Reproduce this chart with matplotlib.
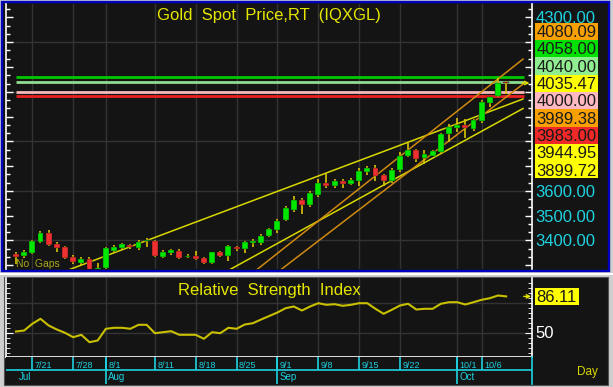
import matplotlib
matplotlib.use("Agg")
import matplotlib.pyplot as plt
import numpy as np
import pandas as pd
from matplotlib.patches import Rectangle
from matplotlib.ticker import MultipleLocator, FuncFormatter, FixedLocator

plt.rcParams['font.family'] = ['Liberation Sans', 'DejaVu Sans']

# ---- data (daily bars, Gold spot) ----
dates = pd.bdate_range("2025-07-17", "2025-10-09")

opens = [3346, 3338, 3347, 3395, 3431, 3387, 3371, 3334, 3310, 3326,
         3280, 3290, 3355, 3367, 3379, 3367, 3396, 3399, 3334, 3347,
         3355, 3334, 3338, 3330, 3310, 3351, 3338, 3371, 3363, 3391,
         3391, 3419, 3440, 3480, 3524, 3561, 3541, 3581, 3633, 3621,
         3641, 3629, 3641, 3674, 3690, 3662, 3641, 3682, 3742, 3763,
         3734, 3742, 3755, 3831, 3852, 3864, 3848, 3880, 3953, 3981,
         4041]
highs = [3351, 3359, 3403, 3437, 3440, 3395, 3378, 3340, 3334, 3331,
         3310, 3372, 3380, 3390, 3386, 3400, 3411, 3403, 3359, 3366,
         3363, 3346, 3356, 3334, 3354, 3355, 3380, 3375, 3398, 3407,
         3426, 3448, 3487, 3540, 3578, 3570, 3598, 3646, 3671, 3646,
         3648, 3650, 3690, 3702, 3705, 3668, 3690, 3756, 3792, 3770,
         3765, 3763, 3835, 3868, 3895, 3891, 3890, 3965, 3980, 4056,
         4045]
lows = [3306, 3330, 3343, 3390, 3375, 3352, 3325, 3305, 3302, 3268,
        3270, 3285, 3350, 3360, 3366, 3362, 3373, 3333, 3327, 3342,
        3326, 3328, 3320, 3306, 3306, 3334, 3316, 3358, 3348, 3373,
        3379, 3415, 3430, 3476, 3516, 3507, 3535, 3575, 3613, 3613,
        3612, 3625, 3621, 3664, 3641, 3621, 3630, 3675, 3735, 3715,
        3709, 3740, 3750, 3796, 3837, 3814, 3840, 3872, 3938, 3978,
        3992]
closes = [3334, 3351, 3399, 3431, 3379, 3367, 3330, 3314, 3326, 3278,
          3290, 3367, 3371, 3383, 3371, 3395, 3400, 3338, 3351, 3359,
          3330, 3338, 3326, 3310, 3351, 3338, 3375, 3363, 3395, 3399,
          3419, 3444, 3476, 3532, 3561, 3541, 3589, 3633, 3621, 3641,
          3629, 3645, 3678, 3690, 3658, 3641, 3682, 3742, 3763, 3730,
          3750, 3759, 3831, 3856, 3864, 3852, 3884, 3957, 3977, 4037,
          4035.47]
rsi = [51, 52, 58.7, 63.7, 57, 53, 49.7, 45.3, 47.7, 40.3,
       42, 53.7, 54.7, 54.7, 53.7, 57.7, 57.7, 49.3, 50.3, 51.3,
       47.7, 47.7, 47.7, 43.7, 50.3, 49.3, 54.7, 53.7, 58, 59.3,
       63, 66.5, 70, 74.3, 76, 72, 76, 79.3, 77.7, 78.3,
       76.7, 77.7, 79.3, 79.3, 73.7, 68.7, 72.7, 77, 78.7, 73,
       73.7, 73.7, 78.7, 80.3, 80.3, 78, 80.3, 82.7, 84.3, 87,
       86.11]

day_ticks = ['7/21', '7/28', '8/1', '8/11', '8/18', '8/25', '9/1',
             '9/8', '9/15', '9/22', '10/1', '10/6']
month_names = ['Jul', 'Aug', 'Sep', 'Oct']

price_labels = [3400, 3500, 3600, 4300]
level_prices = [4058, 4040, 4000, 3983]
level_colors = ['#00c800', '#8fdc8f', '#f4b8b8', '#e82020']

# trend lines: (bar index, price) start -> end
trend_x0 = [6.24, 26.19, 29.5, 32.44]
trend_p0 = [3277.9, 3281.9, 3281.9, 3281.9]
trend_x1 = [62.06, 62.06, 62.06, 62.06]
trend_p1 = [3970.7, 3932.3, 4131.9, 4030.9]
trend_colors = ['#d8d800', '#d8d800', '#d08a10', '#d08a10']

box_labels = ['4080.09', '4058.00', '4040.00', '4035.47', '4000.00',
              '3989.38', '3983.00', '3944.95', '3899.72']
box_colors = ['#f8a000', '#00e000', '#90ee90', '#ffff00', '#ffb8c0',
              '#f8a000', '#f02828', '#ffff00', '#ffff00']

price_grid = [3400, 3600, 3800, 4000, 4200]
rsi_grid = [50, 80]

# ---- layout helpers (pixels, measured from top-left) ----
W, H = 613, 387
BG = '#141414'
GRID = '#333333'
CYAN = '#1ed2e0'
YELLOW = '#e6e600'


def frame(x0, y0, x1, y1):
    return [x0 / W, 1 - y1 / H, (x1 - x0) / W, (y1 - y0) / H]


def rect(fig, x0, y0, x1, y1, **kw):
    fig.add_artist(Rectangle((x0 / W, 1 - y1 / H), (x1 - x0) / W, (y1 - y0) / H,
                             transform=fig.transFigure, **kw))


def last_arrow(axis, x, y):
    axis.annotate('', xy=(x + 0.45, y), xytext=(x - 0.45, y),
                  arrowprops=dict(arrowstyle='->', color=YELLOW, lw=1,
                                  mutation_scale=6, shrinkA=0, shrinkB=0),
                  zorder=6)


idx = np.arange(len(dates))
labels = [f"{d.month}/{d.day}" for d in dates]
tick_idx = [labels.index(t) for t in day_ticks]
month_idx = [0] + [i for i in range(1, len(dates)) if dates[i].month != dates[i - 1].month]
xlim = (-1.22, 63.16)

fig = plt.figure(figsize=(W / 100, H / 100), dpi=100, facecolor='#cfcfcf')

# panel backgrounds / borders
rect(fig, 2, 2, 609, 271, facecolor=BG, edgecolor='#0000c0', lw=1.7, zorder=-2)
rect(fig, 0, 272.5, W, 275, facecolor='white', edgecolor='none', zorder=-2)
rect(fig, 4, 277, 608, 385, facecolor=BG, edgecolor='#505050', lw=0.8, zorder=-2)

# ---- price panel ----
ax = fig.add_axes(frame(6, 4, 532, 269), facecolor=BG)
ax.set_xlim(*xlim)
ax.set_ylim(3284, 4354.5)
for s in ['top', 'bottom']:
    ax.spines[s].set_visible(False)
for s in ['left', 'right']:
    ax.spines[s].set_color('white')
    ax.spines[s].set_linewidth(1.2)
ax.set_xticks([])
ax.yaxis.set_major_locator(MultipleLocator(100))
ax.yaxis.set_minor_locator(MultipleLocator(100 / 3))
ax.yaxis.set_major_formatter(
    FuncFormatter(lambda v, p: f"{v:.2f}" if round(v) in price_labels else ""))
ax.tick_params(axis='y', which='both', direction='in', color='white', left=True,
               right=True, labelleft=False, labelright=True)
ax.tick_params(axis='y', which='major', length=5, width=1, labelsize=12,
               labelcolor=CYAN, pad=2.5)
ax.tick_params(axis='y', which='minor', length=3, width=1)

for g in price_grid:
    ax.axhline(g, color=GRID, lw=1, zorder=0)
for t in tick_idx:
    ax.axvline(t, color=GRID, lw=1, zorder=0)

ax.hlines(level_prices, 0, 62.2, colors=level_colors, lw=2, zorder=2)
for x0, p0, x1, p1, c in zip(trend_x0, trend_p0, trend_x1, trend_p1, trend_colors):
    ax.plot([x0, x1], [p0, p1], color=c, lw=1.1, zorder=2.5)

ax.vlines(idx, lows, highs, colors='#d8c400', lw=1.2, zorder=3)
o = np.array(opens, dtype=float)
c = np.array(closes, dtype=float)
body_colors = ['#00e800' if cc >= oo else '#f03030' for oo, cc in zip(o, c)]
ax.bar(idx, np.maximum(np.abs(c - o), 2), bottom=np.minimum(o, c), width=0.72,
       color=body_colors, edgecolor='#101010', lw=0.3, zorder=4)

last_arrow(ax, 62.4, closes[-1])
ax.text(0.5, 0.958, 'Gold  Spot  Price,RT  (IQXGL)', transform=ax.transAxes,
        ha='center', va='center', fontsize=12, color=YELLOW)
ax.text(0.0, 3304, 'No  Gaps', ha='left', va='center', fontsize=7.5, color='#a8a820')

# stacked value boxes on the right
for k, (lab, col) in enumerate(zip(box_labels, box_colors)):
    y0 = 22.7 + 17.3 * k
    rect(fig, 535, y0, 598, y0 + 17.3, facecolor=col, edgecolor='none', zorder=5)
    fig.text(536.5 / W, 1 - (y0 + 8.4) / H, lab, ha='left', va='center_baseline',
             fontsize=12, color='#1a1a1a', zorder=6)

# ---- RSI panel ----
rax = fig.add_axes(frame(6, 278, 532, 357), facecolor=BG)
rax.set_xlim(*xlim)
rax.set_ylim(25.5, 104.5)
rax.spines['top'].set_visible(False)
for s in ['left', 'right', 'bottom']:
    rax.spines[s].set_color('white')
    rax.spines[s].set_linewidth(1.2)
rax.set_xticks([])
rax.yaxis.set_major_locator(FixedLocator([50]))
rax.yaxis.set_minor_locator(MultipleLocator(5))
rax.tick_params(axis='y', which='both', direction='in', color='white', left=True,
                right=True, labelleft=False, labelright=True)
rax.tick_params(axis='y', which='major', length=5, labelsize=12,
                labelcolor='white', pad=2.5)
rax.tick_params(axis='y', which='minor', length=3)
for g in rsi_grid:
    rax.axhline(g, color=GRID, lw=1, zorder=0)
for t in tick_idx:
    rax.axvline(t, color=GRID, lw=1, zorder=0)
rax.plot(idx, rsi, color='#c8c000', lw=1.5, zorder=3)
last_arrow(rax, 62.6, rsi[-1])
rax.text(0.5, 0.848, 'Relative  Strength  Index', transform=rax.transAxes,
         ha='center', va='center', fontsize=12, color=YELLOW)

rect(fig, 535, 288, 579, 305, facecolor='#ffff00', edgecolor='none', zorder=5)
fig.text(536 / W, 1 - 296.5 / H, f"{rsi[-1]:.2f}", ha='left', va='center_baseline',
         fontsize=12, color='#1a1a1a', zorder=6)

# ---- date strip ----
dax = fig.add_axes(frame(6, 357, 532, 384), facecolor=BG)
dax.set_xlim(*xlim)
dax.set_ylim(0, 1)
dax.set_xticks([])
dax.set_yticks([])
for s in ['top', 'bottom', 'left']:
    dax.spines[s].set_visible(False)
dax.spines['right'].set_color(CYAN)
dax.spines['right'].set_linewidth(1.2)
dax.axhline(0.52, color=CYAN, lw=1.2)
for t, lab in zip(tick_idx, day_ticks):
    dax.vlines(t, 0.52, 1, color=CYAN, lw=1.2)
    dax.text(t + 0.3, 0.67, lab, ha='left', va='center', fontsize=6.5, color=CYAN)
for m, name in zip(month_idx, month_names):
    if m > 0:
        dax.vlines(m, 0, 1, color=CYAN, lw=1.2)
    dax.text(m + 0.3, 0.26, name, ha='left', va='center', fontsize=7, color=CYAN)

fig.text(587 / W, 1 - 372 / H, 'Day', ha='center', va='center', fontsize=8.5,
         color='#d8d800')

fig.savefig('out.png', dpi=100, facecolor=fig.get_facecolor())
